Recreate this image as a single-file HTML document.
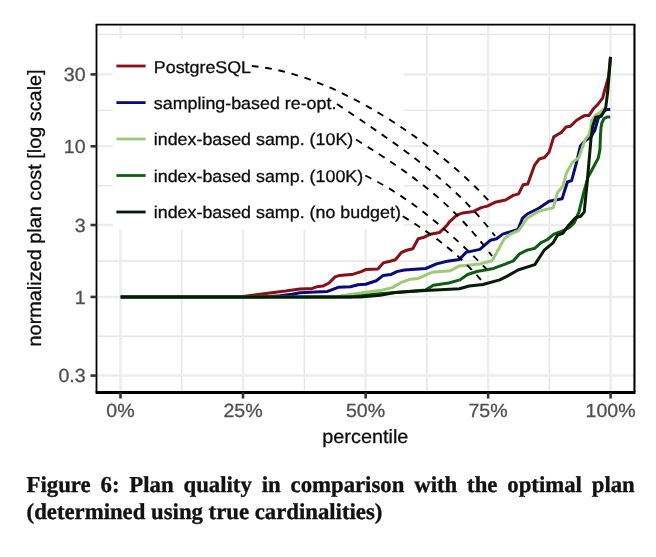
<!DOCTYPE html>
<html lang="en">
<head>
<meta charset="utf-8">
<title>Figure 6: Plan quality in comparison with the optimal plan</title>
<style>
html,body{margin:0;padding:0;background:#fff;}
body{width:656px;height:557px;position:relative;overflow:hidden;font-family:"Liberation Sans",sans-serif;}
svg text{font-family:"Liberation Sans",sans-serif;text-rendering:geometricPrecision;}
.lg{font-size:17.0px;fill:#0d0d0d;stroke:#0d0d0d;stroke-width:0.3px;}
.tk{font-size:19.0px;fill:#505050;stroke:#505050;stroke-width:0.3px;}
.ti{font-size:19.2px;fill:#0d0d0d;stroke:#0d0d0d;stroke-width:0.3px;}
.cap{position:absolute;left:26.6px;top:470.9px;width:608.2px;-webkit-text-stroke:0.35px #111;margin:0;font-family:"Liberation Serif",serif;text-rendering:geometricPrecision;font-weight:bold;font-size:22.75px;line-height:27px;color:#111;text-align:justify;}
</style>
</head>
<body>
<svg width="656" height="557" viewBox="0 0 656 557" style="position:absolute;left:0;top:0">
<rect x="0" y="0" width="656" height="557" fill="#fff"/>
<line x1="96.5" x2="634.45" y1="336.3" y2="336.3" stroke="#e6e6e6" stroke-width="1.4"/>
<line x1="96.5" x2="634.45" y1="261.0" y2="261.0" stroke="#e6e6e6" stroke-width="1.4"/>
<line x1="96.5" x2="634.45" y1="185.7" y2="185.7" stroke="#e6e6e6" stroke-width="1.4"/>
<line x1="96.5" x2="634.45" y1="110.4" y2="110.4" stroke="#e6e6e6" stroke-width="1.4"/>
<line x1="96.5" x2="634.45" y1="34.4" y2="34.4" stroke="#e6e6e6" stroke-width="1.4"/>
<line x1="181.8" x2="181.8" y1="24.65" y2="392.5" stroke="#e6e6e6" stroke-width="1.4"/>
<line x1="304.3" x2="304.3" y1="24.65" y2="392.5" stroke="#e6e6e6" stroke-width="1.4"/>
<line x1="426.8" x2="426.8" y1="24.65" y2="392.5" stroke="#e6e6e6" stroke-width="1.4"/>
<line x1="549.3" x2="549.3" y1="24.65" y2="392.5" stroke="#e6e6e6" stroke-width="1.4"/>
<line x1="96.5" x2="634.45" y1="375.6" y2="375.6" stroke="#ededed" stroke-width="2.5"/>
<line x1="96.5" x2="634.45" y1="296.9" y2="296.9" stroke="#ededed" stroke-width="2.5"/>
<line x1="96.5" x2="634.45" y1="225.0" y2="225.0" stroke="#ededed" stroke-width="2.5"/>
<line x1="96.5" x2="634.45" y1="146.3" y2="146.3" stroke="#ededed" stroke-width="2.5"/>
<line x1="96.5" x2="634.45" y1="74.4" y2="74.4" stroke="#ededed" stroke-width="2.5"/>
<line x1="120.5" x2="120.5" y1="24.65" y2="392.5" stroke="#ededed" stroke-width="2.5"/>
<line x1="243.0" x2="243.0" y1="24.65" y2="392.5" stroke="#ededed" stroke-width="2.5"/>
<line x1="365.6" x2="365.6" y1="24.65" y2="392.5" stroke="#ededed" stroke-width="2.5"/>
<line x1="488.1" x2="488.1" y1="24.65" y2="392.5" stroke="#ededed" stroke-width="2.5"/>
<line x1="610.6" x2="610.6" y1="24.65" y2="392.5" stroke="#ededed" stroke-width="2.5"/>
<rect x="112.7" y="39" width="290.8" height="190.6" fill="#fff"/>
<polyline points="120.7,297.1 232.0,297.0 243.0,296.5 265.8,293.4 285.6,291.1 296.3,289.6 300.0,289.1 312.2,288.4 316.8,286.8 322.9,286.1 329.0,283.0 335.1,276.9 339.7,275.4 353.4,274.2 361.1,271.6 365.6,269.6 377.9,269.0 383.2,262.9 390.1,261.3 395.4,259.8 401.4,252.5 406.7,250.2 412.8,248.7 418.2,238.7 424.3,237.2 430.4,234.2 439.5,232.6 447.2,225.0 449.2,222.1 456.8,215.2 462.9,212.9 473.6,211.4 481.2,207.6 487.3,206.1 495.0,202.3 505.6,200.0 513.3,195.4 518.6,193.9 523.2,184.7 527.8,183.9 534.6,165.1 539.2,159.0 544.5,157.5 549.1,152.1 553.7,136.9 559.0,133.8 561.4,132.4 566.0,127.1 570.5,126.3 576.6,120.2 584.3,115.6 588.9,115.6 593.4,108.8 598.0,104.2 602.6,98.1 605.2,88.3 608.6,76.5 610.5,56.9" fill="none" stroke="#8a0f16" stroke-width="3.0" stroke-linejoin="round" stroke-linecap="butt"/>
<polyline points="120.7,297.1 262.0,297.0 280.0,295.8 292.0,294.2 300.0,292.8 315.3,291.9 327.5,291.4 338.2,287.3 350.4,286.8 358.0,284.8 365.6,284.2 376.3,280.7 383.2,275.4 390.7,274.6 396.8,271.6 404.4,270.0 425.8,268.5 436.5,263.9 447.2,261.3 459.4,259.4 466.1,252.4 479.8,249.4 490.5,240.2 496.6,238.7 502.7,234.1 518.0,229.5 522.6,218.1 527.2,214.0 539.2,208.0 549.1,201.2 562.1,198.7 567.4,182.0 571.6,180.6 575.8,165.1 580.4,146.0 585.0,140.7 591.1,136.9 594.9,130.0 598.0,119.0 602.5,112.5 606.0,109.8 610.3,109.3" fill="none" stroke="#0a0a80" stroke-width="3.0" stroke-linejoin="round" stroke-linecap="butt"/>
<polyline points="120.7,297.1 335.0,297.0 350.0,294.5 365.6,292.2 380.0,290.6 392.2,287.6 401.4,282.3 410.5,279.2 418.2,278.4 431.9,272.3 450.2,270.8 459.4,265.9 480.0,263.9 492.1,260.8 504.3,238.7 510.4,234.1 518.8,230.3 527.2,218.1 533.3,214.5 539.2,211.1 553.3,207.7 557.5,192.4 562.8,186.3 566.6,172.7 572.7,162.1 578.9,157.5 583.4,144.5 585.2,139.4 588.9,134.8 590.7,127.5 591.6,120.2 595.3,115.6 600.8,111.9 604.5,108.4 606.5,108.0" fill="none" stroke="#9ccb76" stroke-width="3.0" stroke-linejoin="round" stroke-linecap="butt"/>
<polyline points="120.7,297.1 350.0,297.0 380.0,293.7 425.8,289.9 433.4,285.3 448.7,283.0 460.0,279.9 467.6,274.5 476.8,271.5 493.6,268.4 505.8,263.9 513.4,260.8 519.5,253.9 527.2,250.1 535.0,248.2 540.8,242.9 547.5,239.5 553.9,234.2 562.1,231.1 569.7,227.3 574.3,222.7 578.9,212.1 583.4,193.7 588.0,177.3 598.2,158.2 599.9,150.0 600.4,136.5 601.0,127.5 601.9,122.9 604.0,118.5 607.0,117.1 610.2,116.9" fill="none" stroke="#0e5e12" stroke-width="3.0" stroke-linejoin="round" stroke-linecap="butt"/>
<polyline points="120.7,297.1 360.0,297.0 380.0,295.2 395.3,292.4 425.8,290.6 459.4,288.8 469.2,286.0 482.9,284.5 499.7,279.9 507.3,276.1 518.0,270.0 534.8,264.6 544.2,250.2 553.0,242.9 557.6,235.0 562.8,233.4 568.2,225.8 575.8,217.4 580.4,216.6 584.2,212.1 587.3,181.0 591.1,137.6 592.7,126.3 595.7,117.2 601.3,116.3 605.6,108.6 607.8,91.0 610.5,56.9" fill="none" stroke="#071c08" stroke-width="3.0" stroke-linejoin="round" stroke-linecap="butt"/>
<path d="M251.8,66.0 C339.4,73.9 442.2,149.5 489,201" fill="none" stroke="#000" stroke-width="1.9" stroke-dasharray="6.75 6.75"/>
<path d="M337,104 C397.9,145.2 452.8,180.5 495,236" fill="none" stroke="#000" stroke-width="1.9" stroke-dasharray="6.75 6.75"/>
<path d="M356,139.5 C416.9,177.7 451.0,201.9 492,256" fill="none" stroke="#000" stroke-width="1.9" stroke-dasharray="6.75 6.75"/>
<path d="M365.3,175.5 C413.7,199.1 452.4,234.7 486.5,269" fill="none" stroke="#000" stroke-width="1.9" stroke-dasharray="6.75 6.75"/>
<path d="M402.8,216.2 C434.2,235.6 458.3,253.6 482,281" fill="none" stroke="#000" stroke-width="1.9" stroke-dasharray="6.75 6.75"/>
<line x1="116.4" x2="145.6" y1="66" y2="66" stroke="#8a0f16" stroke-width="2.8"/>
<text class="lg" transform="translate(153.80,73.00) scale(1.05,1)" text-anchor="start">PostgreSQL</text>
<line x1="116.4" x2="145.6" y1="102.6" y2="102.6" stroke="#0a0a80" stroke-width="2.8"/>
<text class="lg" transform="translate(153.80,109.00) scale(1.05,1)" text-anchor="start">sampling-based re-opt.</text>
<line x1="116.4" x2="145.6" y1="139" y2="139" stroke="#9ccb76" stroke-width="2.8"/>
<text class="lg" transform="translate(153.80,145.00) scale(1.05,1)" text-anchor="start">index-based samp. (10K)</text>
<line x1="116.4" x2="145.6" y1="175.5" y2="175.5" stroke="#0e5e12" stroke-width="2.8"/>
<text class="lg" transform="translate(153.80,182.00) scale(1.05,1)" text-anchor="start">index-based samp. (100K)</text>
<line x1="116.4" x2="145.6" y1="212" y2="212" stroke="#071c08" stroke-width="2.8"/>
<text class="lg" transform="translate(153.80,218.00) scale(1.05,1)" text-anchor="start">index-based samp. (no budget)</text>
<line x1="95.6" x2="635.5" y1="24.65" y2="24.65" stroke="#000" stroke-width="1.7"/>
<line x1="634.45" x2="634.45" y1="24.65" y2="392.5" stroke="#000" stroke-width="2.1"/>
<line x1="96.5" x2="96.5" y1="24.65" y2="392.5" stroke="#000" stroke-width="1.8"/>
<line x1="95.6" x2="635.5" y1="392.5" y2="392.5" stroke="#000" stroke-width="3.0"/>
<line x1="90.5" x2="96.5" y1="375.6" y2="375.6" stroke="#333" stroke-width="2.6"/>
<text class="tk" transform="translate(85.60,382.00) scale(1.03,1)" text-anchor="end">0.3</text>
<line x1="90.5" x2="96.5" y1="296.9" y2="296.9" stroke="#333" stroke-width="2.6"/>
<text class="tk" transform="translate(85.60,304.00) scale(1.03,1)" text-anchor="end">1</text>
<line x1="90.5" x2="96.5" y1="225.0" y2="225.0" stroke="#333" stroke-width="2.6"/>
<text class="tk" transform="translate(85.60,232.00) scale(1.03,1)" text-anchor="end">3</text>
<line x1="90.5" x2="96.5" y1="146.3" y2="146.3" stroke="#333" stroke-width="2.6"/>
<text class="tk" transform="translate(85.60,153.00) scale(1.03,1)" text-anchor="end">10</text>
<line x1="90.5" x2="96.5" y1="74.4" y2="74.4" stroke="#333" stroke-width="2.6"/>
<text class="tk" transform="translate(85.60,81.00) scale(1.03,1)" text-anchor="end">30</text>
<line x1="120.5" x2="120.5" y1="392.5" y2="398.5" stroke="#333" stroke-width="2.6"/>
<text class="tk" transform="translate(120.50,417.00) scale(1.03,1)" text-anchor="middle">0%</text>
<line x1="243.0" x2="243.0" y1="392.5" y2="398.5" stroke="#333" stroke-width="2.6"/>
<text class="tk" transform="translate(243.03,417.00) scale(1.03,1)" text-anchor="middle">25%</text>
<line x1="365.6" x2="365.6" y1="392.5" y2="398.5" stroke="#333" stroke-width="2.6"/>
<text class="tk" transform="translate(365.55,417.00) scale(1.03,1)" text-anchor="middle">50%</text>
<line x1="488.1" x2="488.1" y1="392.5" y2="398.5" stroke="#333" stroke-width="2.6"/>
<text class="tk" transform="translate(488.07,417.00) scale(1.03,1)" text-anchor="middle">75%</text>
<line x1="610.6" x2="610.6" y1="392.5" y2="398.5" stroke="#333" stroke-width="2.6"/>
<text class="tk" transform="translate(610.60,417.00) scale(1.03,1)" text-anchor="middle">100%</text>
<text class="ti" transform="translate(365.30,443.00) scale(1.035,1)" text-anchor="middle">percentile</text>
<text class="ti" transform="translate(41.00,207.90) rotate(-90) scale(1.035,1)" text-anchor="middle">normalized plan cost [log scale]</text>
</svg>
<p class="cap">Figure 6: Plan quality in comparison with the optimal plan (determined using true cardinalities)</p>
</body>
</html>
